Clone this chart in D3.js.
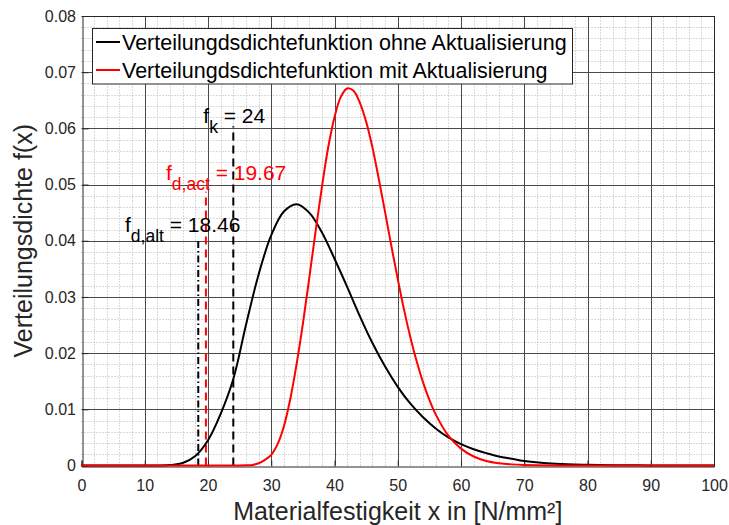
<!DOCTYPE html>
<html><head><meta charset="utf-8">
<script src="https://cdn.jsdelivr.net/npm/d3@7"></script>
<style>
body{margin:0;background:#fff}
svg{display:block}
text{font-family:"Liberation Sans",Arial,Helvetica,sans-serif}
</style></head>
<body><svg id="c" width="729" height="525"></svg>
<script>
// ---- data ----
const xTicks = [0,10,20,30,40,50,60,70,80,90,100];
const yTicks = [0,0.01,0.02,0.03,0.04,0.05,0.06,0.07,0.08];
const yTickLabels = ["0","0.01","0.02","0.03","0.04","0.05","0.06","0.07","0.08"];

const blackX = [0,5,10,12,14,16,18,20,22,24,26,28,30,32,34,36,38,40,42,44,46,48,50,52,54,56,58,60,62,64,66,68,70,75,80,85,90,95,100];
const blackY = [0,0,0,0.00001,0.00008,0.00045,0.0017,0.0045,0.0092,0.0154,0.0250,0.0340,0.0410,0.0452,0.0465,0.0450,0.0415,0.0368,0.0318,0.0266,0.0218,0.0176,0.0140,0.0110,0.0086,0.0066,0.0050,0.0038,0.0029,0.0022,0.0016,0.0012,0.0008,0.0003,0.00012,0.00005,0.00002,0.00001,0];

const redX = [0,5,10,15,20,24,26,27,28,29,30,31,32,33,34,35,36,37,38,39,40,41,42,43,44,45,46,47,48,49,50,51,52,53,54,55,56,58,60,62,64,66,68,70,75,80,90,100];
const redY = [0,0,0,0,0,0,0.00005,0.0001,0.0004,0.0010,0.0019,0.0038,0.0070,0.0118,0.0180,0.0252,0.0333,0.0416,0.0495,0.0566,0.0620,0.0656,0.0671,0.0667,0.0646,0.0612,0.0566,0.0510,0.0451,0.0390,0.0332,0.0277,0.0228,0.0185,0.0148,0.0117,0.0091,0.0053,0.0030,0.0016,0.0008,0.0004,0.0002,0.0001,0.00002,0,0,0];

const refX = [18.46, 19.67, 24];
const refTop = [0.0403, 0.0487, 0.0604];

const legendLabels = ["Verteilungdsdichtefunktion ohne Aktualisierung","Verteilungdsdichtefunktion mit Aktualisierung"];

// ---- chart ----
const svg = d3.select("#c");
const x = d3.scaleLinear().domain([0,100]).range([81.5,714]);
const y = d3.scaleLinear().domain([0,0.08]).range([465.5,16]);
const px = v => Math.round(x(v)) + 0.5;
const py = v => Math.round(y(v)) + 0.5;
const axisCol = "#262626";

svg.append("rect").attr("width",729).attr("height",525).attr("fill","#fff");

// minor grid
const minorX = d3.range(2,100,2).filter(v => v % 10 !== 0);
const minorY = d3.range(1,40).map(i => i*0.002).filter((v,i) => (i+1) % 5 !== 0);
const g = svg.append("g");
g.selectAll(".mx").data(minorX).enter().append("line")
  .attr("x1",d=>px(d)).attr("x2",d=>px(d)).attr("y1",y(0)).attr("y2",y(0.08))
  .attr("stroke","#b4b4b4").attr("stroke-width",1).attr("stroke-dasharray","1,2");
g.selectAll(".my").data(minorY).enter().append("line")
  .attr("y1",d=>py(d)).attr("y2",d=>py(d)).attr("x1",x(0)).attr("x2",x(100))
  .attr("stroke","#b4b4b4").attr("stroke-width",1).attr("stroke-dasharray","1,2");
// major grid
g.selectAll(".gx").data(xTicks.slice(1,-1)).enter().append("line")
  .attr("x1",d=>px(d)).attr("x2",d=>px(d)).attr("y1",y(0)).attr("y2",y(0.08))
  .attr("stroke","#4a4a4a").attr("stroke-width",1);
g.selectAll(".gy").data(yTicks.slice(1,-1)).enter().append("line")
  .attr("y1",d=>py(d)).attr("y2",d=>py(d)).attr("x1",x(0)).attr("x2",x(100))
  .attr("stroke","#4a4a4a").attr("stroke-width",1);

// box top/right
svg.append("line").attr("x1",x(0)).attr("x2",x(100)).attr("y1",py(0.08)).attr("y2",py(0.08)).attr("stroke",axisCol);
svg.append("line").attr("x1",px(100)).attr("x2",px(100)).attr("y1",y(0)).attr("y2",y(0.08)).attr("stroke",axisCol);

// axes
const ax = svg.append("g").attr("transform",`translate(0,${py(0)})`)
  .call(d3.axisBottom(x).tickValues(xTicks).tickFormat(d3.format("d")).tickSize(-6).tickPadding(13.5));
const ay = svg.append("g").attr("transform",`translate(${px(0)},0)`)
  .call(d3.axisLeft(y).tickValues(yTicks).tickFormat((d,i)=>yTickLabels[i]).tickSize(-6).tickPadding(6.5));
[ax,ay].forEach(a=>{
  a.selectAll("path").attr("stroke",axisCol).attr("stroke-width",1);
  a.selectAll("line").attr("stroke",axisCol);
  a.selectAll("text").attr("fill",axisCol).style("font-size","16px")
   .style("font-family","'Liberation Sans',Arial,sans-serif");
});

// reference lines
const refStyle = [
  {c:"#000", d:"7,3,1.5,3"},
  {c:"#ff0000", d:"8,5"},
  {c:"#000", d:"8,5"}
];
refX.forEach((v,i)=>{
  svg.append("line").attr("x1",x(v)).attr("x2",x(v)).attr("y1",y(0)).attr("y2",y(refTop[i]))
    .attr("stroke",refStyle[i].c).attr("stroke-width",2).attr("stroke-dasharray",refStyle[i].d);
});

// curves
const line = d3.line().x(d=>x(d[0])).y(d=>Math.min(y(0), y(d[1]))).curve(d3.curveCatmullRom.alpha(0.5));
svg.append("path").datum(blackX.map((v,i)=>[v,blackY[i]])).attr("d",line)
  .attr("fill","none").attr("stroke","#000").attr("stroke-width",2);
svg.append("path").datum(redX.map((v,i)=>[v,redY[i]])).attr("d",line)
  .attr("fill","none").attr("stroke","#ff0000").attr("stroke-width",2);

// annotations
function ann(xv, yv, sub, rest, col){
  const t = svg.append("text").attr("x",x(xv)).attr("y",y(yv)).attr("fill",col).style("font-size","21px");
  t.append("tspan").text("f");
  t.append("tspan").attr("dy",10).style("font-size","17.5px").text(sub);
  t.append("tspan").attr("dy",-10).text(" " + rest);
}
ann(19.26, 0.0609, "k", "= " + refX[2], "#000");
ann(13.36, 0.0508, "d,act", "= " + refX[1].toFixed(2), "#ff0000");
ann(6.88, 0.0416, "d,alt", "= " + refX[0].toFixed(2), "#000");

// legend
const lg = svg.append("g");
lg.append("rect").attr("x",92.5).attr("y",28.5).attr("width",480).attr("height",55.5)
  .attr("fill","#fff").attr("stroke",axisCol).attr("stroke-width",1);
const lgCols = ["#000","#ff0000"];
legendLabels.forEach((s,i)=>{
  const yy = 42 + i*28;
  lg.append("line").attr("x1",96).attr("x2",120).attr("y1",yy).attr("y2",yy)
    .attr("stroke",lgCols[i]).attr("stroke-width",2);
  lg.append("text").attr("x",122).attr("y",yy+7.5).attr("fill","#000").style("font-size","21.5px").text(s);
});

// axis labels
svg.append("text").attr("x",(x(0)+x(100))/2).attr("y",520).attr("text-anchor","middle")
  .attr("fill",axisCol).style("font-size","25px").text("Materialfestigkeit x in [N/mm²]");
svg.append("text").attr("transform",`translate(32,${(y(0)+y(0.08))/2}) rotate(-90)`)
  .attr("text-anchor","middle").attr("fill",axisCol).style("font-size","25px").text("Verteilungsdichte f(x)");
</script></body></html>
